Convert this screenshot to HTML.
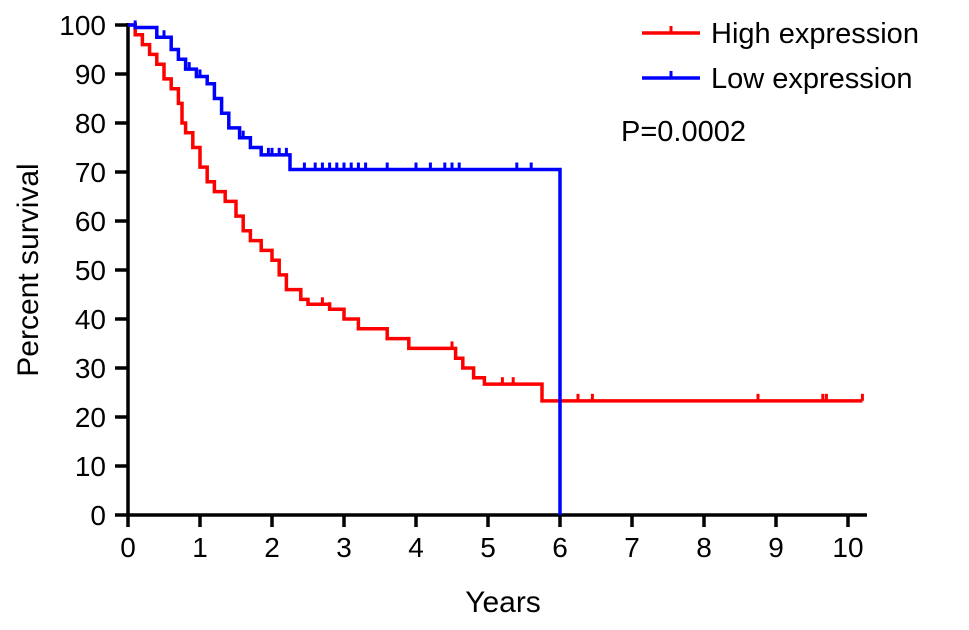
<!DOCTYPE html>
<html><head><meta charset="utf-8"><style>
body{margin:0;background:#fff}
svg text{font-family:"Liberation Sans",Arial,sans-serif;fill:#000}
</style></head><body>
<svg id="c" width="969" height="625" viewBox="0 0 969 625">
<g id="axes"></g><g id="marks"></g>
<g>
<line x1="642" y1="33" x2="700" y2="33" stroke="#ff0000" stroke-width="3.5"/><line x1="671" y1="26" x2="671" y2="33" stroke="#ff0000" stroke-width="3"/>
<text x="711" y="43" font-size="29">High expression</text>
<line x1="642" y1="78" x2="700" y2="78" stroke="#0000ff" stroke-width="3.5"/><line x1="671" y1="71" x2="671" y2="78" stroke="#0000ff" stroke-width="3"/>
<text x="711" y="88" font-size="29">Low expression</text>
</g>
<text x="621" y="141" font-size="29">P=0.0002</text>
<text x="503" y="612" font-size="30" text-anchor="middle">Years</text>
<text transform="translate(38,270) rotate(-90)" font-size="30" text-anchor="middle">Percent survival</text>
</svg>
<script>
const xTicks=[0,1,2,3,4,5,6,7,8,9,10];
const yTicks=[0,10,20,30,40,50,60,70,80,90,100];
const highTimes=[0,0.1,0.2,0.3,0.4,0.5,0.6,0.7,0.75,0.8,0.9,1.0,1.1,1.2,1.35,1.5,1.6,1.7,1.85,2.0,2.1,2.2,2.4,2.5,2.8,3.0,3.2,3.6,3.9,4.55,4.65,4.8,4.95,5.75,10.2];
const highSurv=[100,98,96,94,92,89,87,84,80,78,75,71,68,66,64,61,58,56,54,52,49,46,44,43,42,40,38,36,34,32,30,28,26.7,23.3,23.3];
const highCensor=[2.7,2.8,4.5,5.2,5.35,6.0,6.25,6.45,8.75,9.65,9.7,10.2];
const lowTimes=[0,0.1,0.4,0.6,0.7,0.8,0.95,1.1,1.2,1.3,1.4,1.55,1.7,1.85,2.25,6.0,6.0];
const lowSurv=[100,99.5,97.5,95,93,91,89.5,88,85,82,79,77,75,73.5,70.5,70.5,0];
const lowCensor=[0.1,0.5,0.85,1.0,1.6,1.95,2.0,2.1,2.2,2.45,2.6,2.7,2.8,2.9,3.0,3.1,3.2,3.3,3.6,4.0,4.2,4.4,4.5,4.6,5.4,5.6];
const X=t=>128+t*72, Y=v=>515-v*4.9;
const NS='http://www.w3.org/2000/svg';
function mk(tag,attrs,parent){const e=document.createElementNS(NS,tag);for(const k in attrs)e.setAttribute(k,attrs[k]);parent.appendChild(e);return e;}
const ax=document.getElementById('axes'), mg=document.getElementById('marks');
let a=mk('line',{x1:128,y1:Y(0),x2:128,y2:Y(100)-2,stroke:'#000','stroke-width':3.5},ax);


a=mk('line',{x1:126.5,y1:515,x2:867,y2:515,stroke:'#000','stroke-width':3.5},ax);


xTicks.forEach(t=>{mk('line',{x1:X(t),y1:515,x2:X(t),y2:527,stroke:'#000','stroke-width':3.5},ax);
const tx=mk('text',{x:X(t),y:557,'font-size':28,'text-anchor':'middle'},ax);tx.textContent=t;

});
yTicks.forEach(v=>{mk('line',{x1:115,y1:Y(v),x2:128,y2:Y(v),stroke:'#000','stroke-width':3.5},ax);
const tx=mk('text',{x:106,y:Y(v)+10,'font-size':28,'text-anchor':'end'},ax);tx.textContent=v;

});
function step(times,surv,cens,color,name){
 let d='M'+X(times[0])+','+Y(surv[0]);
 for(let i=1;i<times.length;i++){d+=' H'+X(times[i])+' V'+Y(surv[i]);}
 const p=mk('path',{d:d,fill:'none',stroke:color,'stroke-width':3.5},mg);
 
 
 cens.forEach(c=>{let v=surv[0];for(let i=0;i<times.length;i++){if(times[i]<=c)v=surv[i];}
  if(name==='low'&&c>=6)v=70.5;
  const l=mk('line',{x1:X(c),y1:Y(v),x2:X(c),y2:Y(v)-7,stroke:color,'stroke-width':3},mg);
  
  });
}
step(highTimes,highSurv,highCensor,'#ff0000','high');
step(lowTimes,lowSurv,lowCensor,'#0000ff','low');
</script>
</body></html>
